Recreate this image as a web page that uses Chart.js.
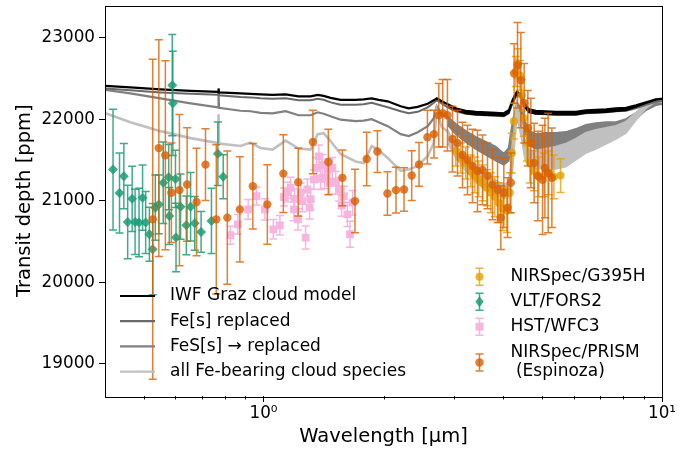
<!DOCTYPE html>
<html>
<head>
<meta charset="utf-8">
<title>Transit spectrum</title>
<script src="https://cdn.jsdelivr.net/npm/chart.js@4.4.1/dist/chart.umd.min.js"></script>
<style>
  html, body { margin: 0; padding: 0; background: #fff; }
  #wrap { width: 697px; height: 452px; position: relative; }
</style>
</head>
<body>
<div id="wrap"><canvas id="spectrum"></canvas></div>
<script>
// --- cloud model spectra (shared wavelength grid, um) ---
const modelWave = [0.401, 0.463, 0.551, 0.656, 0.769, 0.771, 0.773, 0.875, 0.928, 0.983,
  1.053, 1.136, 1.224, 1.313, 1.367, 1.415, 1.473, 1.561, 1.703, 1.783,
  1.868, 1.945, 2.049, 2.209, 2.314, 2.437, 2.582, 2.674, 2.720, 2.800,
  2.899, 3.036, 3.217, 3.409, 3.613, 3.828, 4.009, 4.127, 4.223, 4.322,
  4.423, 4.527, 4.633, 4.824, 5.111, 5.416, 5.739, 6.080, 6.443, 6.826,
  7.233, 7.664, 8.120, 8.604, 9.117, 9.659, 10.0];
const iwfDepth = [22408, 22390, 22366, 22348, 22335, 22378, 22329, 22317, 22311, 22305,
  22299, 22305, 22280, 22280, 22299, 22287, 22262, 22238, 22238, 22244,
  22256, 22238, 22220, 22159, 22134, 22152, 22189, 22232, 22256, 22220,
  22183, 22134, 22104, 22091, 22085, 22079, 22073, 22110, 22244, 22335,
  22305, 22183, 22122, 22104, 22098, 22091, 22091, 22091, 22110, 22116,
  22122, 22134, 22140, 22171, 22207, 22244, 22250];
const feDepth = [22378, 22354, 22329, 22311, 22299, 22354, 22293, 22274, 22268, 22256,
  22250, 22256, 22232, 22232, 22250, 22238, 22207, 22177, 22177, 22183,
  22201, 22177, 22146, 22098, 22073, 22091, 22146, 22201, 22232, 22195,
  22146, 22098, 22067, 22055, 22049, 22043, 22037, 22073, 22207, 22293,
  22268, 22146, 22085, 22067, 22061, 22055, 22055, 22055, 22073, 22079,
  22085, 22098, 22104, 22134, 22177, 22213, 22220];
const fesDepth = [22360, 22317, 22256, 22195, 22146, 22341, 22140, 22104, 22098, 22079,
  22073, 22098, 22049, 22049, 22085, 22067, 22037, 21994, 21976, 21982,
  22000, 21963, 21915, 21817, 21793, 21841, 21915, 22012, 22159, 22061,
  22024, 21939, 21854, 21780, 21720, 21659, 21573, 21646, 21976, 22195,
  22146, 21976, 21854, 21817, 21829, 21829, 21841, 21878, 21927, 21951,
  21963, 21963, 22000, 22073, 22159, 22195, 22189];
const allFeDepth = [22073, 21963, 21854, 21768, 21707, 22061, 21701, 21671, 21713, 21646,
  21628, 21738, 21640, 21628, 21817, 21829, 21732, 21573, 21482, 21463,
  21671, 21622, 21524, 21366, 21384, 21427, 21549, 21707, 22110, 21902,
  21854, 21671, 21524, 21415, 21317, 21244, 21195, 21220, 21585, 22171,
  21976, 21707, 21610, 21610, 21634, 21659, 21695, 21756, 21829, 21866,
  21890, 21915, 21963, 22073, 22183, 22244, 22250];
// lower envelope of the noisy long-wavelength part (grid points from 2.899 um on)
const bandStart = 30;
const iwfLower = [22170, 22110, 22070, 22055, 22050, 22045, 22040, 22080, 22220, 22310,
  22275, 22150, 22085, 22065, 22060, 22055, 22055, 22055, 22075, 22080,
  22085, 22098, 22108, 22150, 22195, 22238, 22248];
const fesLower = [21927, 21817, 21720, 21634, 21561, 21488, 21439, 21488, 21878, 22122,
  22049, 21854, 21683, 21634, 21622, 21622, 21634, 21671, 21707, 21732,
  21780, 21817, 21890, 22000, 22110, 22171, 22183];
const allFeLower = [21707, 21524, 21366, 21220, 21134, 21073, 21024, 21049, 21402, 22024,
  21805, 21512, 21415, 21402, 21390, 21390, 21415, 21500, 21585, 21634,
  21695, 21756, 21829, 21988, 22134, 22220, 22238];

// --- observations ---
const g395Wave = [3.036, 3.126, 3.217, 3.312, 3.390, 3.469, 3.550, 3.633, 3.718, 3.806,
  3.895, 3.986, 4.079, 4.151, 4.200, 4.248, 4.297, 4.347, 4.398, 4.449,
  4.501, 4.580, 4.660, 4.769, 4.909, 5.052, 5.201, 5.354, 5.565];
const g395Depth = [21610, 21524, 21463, 21366, 21317, 21268, 21220, 21159, 21098, 21049,
  20976, 20902, 20878, 21098, 21585, 21976, 22585, 22683, 22537, 22293,
  22012, 21707, 21463, 21366, 21293, 21317, 21341, 21293, 21309];
const g395Err = [183, 183, 195, 195, 220, 220, 220, 220, 244, 244,
  244, 268, 268, 244, 244, 220, 183, 183, 183, 195,
  220, 220, 244, 244, 244, 268, 268, 268, 207];

const fors2Wave = [0.419, 0.435, 0.446, 0.456, 0.468, 0.476, 0.487, 0.497, 0.506, 0.517,
  0.527, 0.535, 0.546, 0.560, 0.578, 0.580, 0.590, 0.592, 0.601, 0.603,
  0.619, 0.640, 0.656, 0.672, 0.697, 0.740, 0.768, 0.792];
const fors2Depth = [21382, 21095, 21301, 20740, 21024, 20740, 20732, 21037, 20732, 20589,
  20406, 20915, 20955, 21220, 21289, 20814, 22418, 22195, 21268, 20549,
  20927, 20699, 20927, 20723, 20618, 20752, 21577, 21293];
const fors2Err = [740, 490, 400, 450, 400, 400, 420, 400, 380, 330,
  560, 400, 360, 500, 400, 350, 620, 640, 350, 420,
  400, 360, 420, 330, 250, 400, 390, 270];

const wfc3Wave = [0.826, 0.862, 0.915, 0.960, 1.008, 1.058, 1.099, 1.125, 1.151, 1.169,
  1.192, 1.196, 1.220, 1.239, 1.251, 1.275, 1.288, 1.305, 1.313, 1.338,
  1.359, 1.377, 1.391, 1.405, 1.424, 1.446, 1.465, 1.488, 1.517, 1.546,
  1.570, 1.591, 1.623, 1.648, 1.673];
const wfc3Depth = [20577, 20711, 20894, 21057, 20894, 20650, 20699, 21045, 21106, 21159,
  20894, 21024, 20772, 21098, 20996, 20549, 21138, 20915, 21016, 21260,
  21402, 21545, 21268, 21443, 21281, 21382, 21220, 21402, 21220, 21138,
  20939, 21057, 20833, 20589, 20976];
const wfc3Err = [110, 120, 120, 110, 130, 120, 120, 110, 120, 130,
  140, 120, 130, 120, 130, 140, 130, 140, 130, 120,
  130, 140, 130, 120, 130, 130, 140, 130, 140, 140,
  130, 120, 150, 160, 150];

const prismWave = [0.527, 0.546, 0.567, 0.587, 0.615, 0.643, 0.679, 0.715, 0.761, 0.811,
  0.872, 0.940, 1.022, 1.121, 1.222, 1.330, 1.454, 1.577, 1.696, 1.815,
  1.931, 2.046, 2.150, 2.252, 2.354, 2.456, 2.578, 2.678, 2.753, 2.816,
  2.894, 2.979, 3.067, 3.157, 3.250, 3.345, 3.443, 3.544, 3.648, 3.755,
  3.866, 3.940, 4.009, 4.096, 4.175, 4.255, 4.339, 4.423, 4.509, 4.606,
  4.687, 4.777, 4.880, 5.014, 5.082, 5.180, 5.292];
const prismDepth = [20772, 21646, 21557, 21098, 21130, 21199, 20984, 21443, 20772, 20793,
  20894, 21179, 20955, 21333, 21228, 21720, 21476, 21281, 20996, 21512,
  21604, 21089, 21130, 21138, 21309, 21445, 21780, 21817, 22049, 22073,
  22049, 21756, 21707, 21561, 21500, 21427, 21366, 21378, 21305, 21195,
  21134, 20793, 21098, 20915, 21220, 22561, 22662, 22479, 22195, 21890,
  21707, 21463, 21305, 21256, 21402, 21341, 21281];
const prismErr = [1963, 1329, 1159, 610, 927, 695, 659, 439, 915, 817,
  646, 524, 488, 476, 415, 390, 402, 341, 390, 329,
  256, 268, 280, 268, 305, 268, 329, 293, 390, 415,
  439, 402, 402, 402, 427, 451, 500, 427, 402, 427,
  402, 390, 427, 366, 366, 366, 524, 585, 488, 463,
  549, 488, 549, 671, 610, 732, 610];

// --- axes ---
const yTicks = [19000, 20000, 21000, 22000, 23000];
const xMajor = [1, 10];
const xMinor = [0.5, 0.6, 0.7, 0.8, 0.9, 2, 3, 4, 5, 6, 7, 8, 9];

const modelNames = ['IWF Graz cloud model', 'Fe[s] replaced', 'FeS[s] \u2192 replaced', 'all Fe-bearing cloud species'];
const modelColors = ['#000000', '#696969', '#808080', '#c0c0c0'];

const FONT = '"DejaVu Sans", sans-serif';
const C_G395 = 'rgba(230,159,0,0.8)';
const C_FORS = 'rgba(27,158,119,0.85)';
const C_WFC3 = 'rgba(247,178,222,0.95)';
const C_PRISM = 'rgba(217,95,2,0.8)';

const pts = (xs, ys) => xs.map((x, i) => ({ x: x, y: ys[i] }));

function drawMarker(ctx, style, x, y, r) {
  ctx.beginPath();
  if (style === 'circle') {
    ctx.arc(x, y, r, 0, Math.PI * 2);
  } else if (style === 'rect') {
    ctx.rect(x - r * 0.72, y - r * 0.72, r * 1.44, r * 1.44);
  } else {
    ctx.moveTo(x, y - r); ctx.lineTo(x + r * 0.75, y);
    ctx.lineTo(x, y + r); ctx.lineTo(x - r * 0.75, y); ctx.closePath();
  }
  ctx.fill();
}

function drawBar(ctx, x, top, bot) {
  ctx.beginPath();
  ctx.moveTo(x, top); ctx.lineTo(x, bot);
  ctx.moveTo(x - 4, top); ctx.lineTo(x + 4, top);
  ctx.moveTo(x - 4, bot); ctx.lineTo(x + 4, bot);
  ctx.stroke();
}

// vertical error bars, drawn just under each dataset's markers
const errorBars = {
  id: 'errorBars',
  beforeDatasetDraw(chart, args) {
    const ds = chart.data.datasets[args.index];
    if (!ds.errors) return;
    const { ctx, chartArea: a } = chart;
    const ys = chart.scales.y;
    ctx.save();
    ctx.beginPath();
    ctx.rect(a.left, a.top, a.right - a.left, a.bottom - a.top);
    ctx.clip();
    ctx.strokeStyle = ds.barColor;
    ctx.lineWidth = 1.5;
    args.meta.data.forEach((p, i) => {
      const v = ds.data[i].y, e = ds.errors[i];
      drawBar(ctx, p.x, ys.getPixelForValue(v + e), ys.getPixelForValue(v - e));
    });
    ctx.restore();
  }
};

// two frameless legends inside the axes
const panelLegends = {
  id: 'panelLegends',
  afterDatasetsDraw(chart) {
    const ctx = chart.ctx;
    ctx.save();
    ctx.font = '17px ' + FONT;
    ctx.textBaseline = 'middle';
    modelNames.forEach((name, i) => {
      const y = 296 + i * 25.2;
      ctx.strokeStyle = modelColors[i];
      ctx.lineWidth = 2.2;
      ctx.beginPath(); ctx.moveTo(120, y); ctx.lineTo(155, y); ctx.stroke();
      ctx.fillStyle = '#000';
      ctx.fillText(name, 170, y);
    });

    const entries = [
      { c: C_G395, s: 'circle', r: 4, y: 276.7, lines: ['NIRSpec/G395H'] },
      { c: C_FORS, s: 'diamond', r: 5.5, y: 301.7, lines: ['VLT/FORS2'] },
      { c: C_WFC3, s: 'rect', r: 5.5, y: 326.7, lines: ['HST/WFC3'] },
      { c: C_PRISM, s: 'circle', r: 4.2, y: 362.5, lines: ['NIRSpec/PRISM', ' (Espinoza)'] }
    ];
    entries.forEach(e => {
      ctx.strokeStyle = e.c;
      ctx.fillStyle = e.c;
      ctx.lineWidth = 1.5;
      drawBar(ctx, 479.5, e.y - 8.5, e.y + 8.5);
      drawMarker(ctx, e.s, 479.5, e.y, e.r);
      ctx.fillStyle = '#000';
      const y0 = e.y - (e.lines.length - 1) * 9.5;
      e.lines.forEach((t, k) => ctx.fillText(t, 510.5, y0 + k * 19));
    });
    ctx.restore();
  }
};

// full box around the axes plus minor ticks on the log axis
const frame = {
  id: 'frame',
  afterDraw(chart) {
    const { ctx, chartArea: a } = chart;
    const xs = chart.scales.x;
    ctx.save();
    ctx.strokeStyle = '#000';
    ctx.lineWidth = 0.9;
    xMinor.forEach(v => {
      const x = Math.round(xs.getPixelForValue(v)) + 0.5;
      ctx.beginPath(); ctx.moveTo(x, a.bottom); ctx.lineTo(x, a.bottom + 3.5); ctx.stroke();
    });
    ctx.lineWidth = 1;
    ctx.strokeRect(Math.round(a.left) + 0.5, Math.round(a.top) + 0.5,
      Math.round(a.right - a.left), Math.round(a.bottom - a.top));
    ctx.restore();
  }
};

const line = (xs, ys, color, width) => ({
  data: pts(xs, ys), showLine: true, borderColor: color, backgroundColor: color,
  borderWidth: width, pointRadius: 0, fill: false
});
const band = (xs, ys, color, width) => ({
  data: pts(xs, ys), showLine: true, borderColor: color, backgroundColor: color,
  borderWidth: width, pointRadius: 0, fill: '-1'
});
const obs = (xs, ys, errs, color, style, r) => ({
  data: pts(xs, ys), errors: errs, barColor: color, showLine: false,
  pointStyle: style, pointRadius: r, backgroundColor: color, borderWidth: 0
});

const bandWave = modelWave.slice(bandStart);

// earlier datasets are painted on top of later ones
new Chart(document.getElementById('spectrum'), {
  type: 'scatter',
  data: {
    datasets: [
      obs(prismWave, prismDepth, prismErr, C_PRISM, 'circle', 4.2),
      obs(wfc3Wave, wfc3Depth, wfc3Err, C_WFC3, 'rect', 5.5),
      obs(fors2Wave, fors2Depth, fors2Err, C_FORS, 'rectRot', 5),
      obs(g395Wave, g395Depth, g395Err, C_G395, 'circle', 4),
      line(modelWave, iwfDepth, modelColors[0], 2.2),
      band(bandWave, iwfLower, modelColors[0], 1.5),
      line(modelWave, feDepth, modelColors[1], 2),
      line(modelWave, allFeDepth, modelColors[3], 2.6),
      band(bandWave, allFeLower, modelColors[3], 1.5),
      line(modelWave, fesDepth, modelColors[2], 2.2),
      band(bandWave, fesLower, modelColors[2], 1.5)
    ]
  },
  options: {
    responsive: true,
    maintainAspectRatio: false,
    animation: false,
    events: [],
    layout: { padding: { top: 2, right: 35, bottom: 0, left: 0 } },
    plugins: { legend: { display: false }, tooltip: { enabled: false } },
    scales: {
      x: {
        type: 'logarithmic',
        min: 0.4,
        max: 10,
        afterBuildTicks: s => { s.ticks = xMajor.map(v => ({ value: v })); },
        afterFit: s => { s.height = 56; s.paddingLeft = 0; s.paddingRight = 0; },
        ticks: {
          autoSkip: false, maxRotation: 0, padding: 2, color: '#000',
          font: { family: FONT, size: 16.8 },
          callback: v => (v === 1 ? '10\u2070' : v === 10 ? '10\u00b9' : '')
        },
        grid: { drawOnChartArea: false, drawTicks: true, tickLength: 6, color: '#000', tickWidth: 1 },
        border: { display: false },
        title: {
          display: true, text: 'Wavelength [\u03bcm]', color: '#000',
          font: { family: FONT, size: 19.5 }, padding: { top: 0, bottom: 3.5 }
        }
      },
      y: {
        min: 18605,
        max: 23395,
        afterBuildTicks: s => { s.ticks = yTicks.map(v => ({ value: v })); },
        afterFit: s => { s.width = 105; s.paddingTop = 0; s.paddingBottom = 0; },
        ticks: {
          padding: 4, color: '#000',
          font: { family: FONT, size: 16.8 },
          callback: v => String(v)
        },
        grid: { drawOnChartArea: false, drawTicks: true, tickLength: 6, color: '#000', tickWidth: 1 },
        border: { display: false },
        title: {
          display: true, text: 'Transit depth [ppm]', color: '#000',
          font: { family: FONT, size: 19.5 }, padding: { top: 13.3, bottom: 0 }
        }
      }
    }
  },
  plugins: [errorBars, panelLegends, frame]
});
</script>
</body>
</html>
